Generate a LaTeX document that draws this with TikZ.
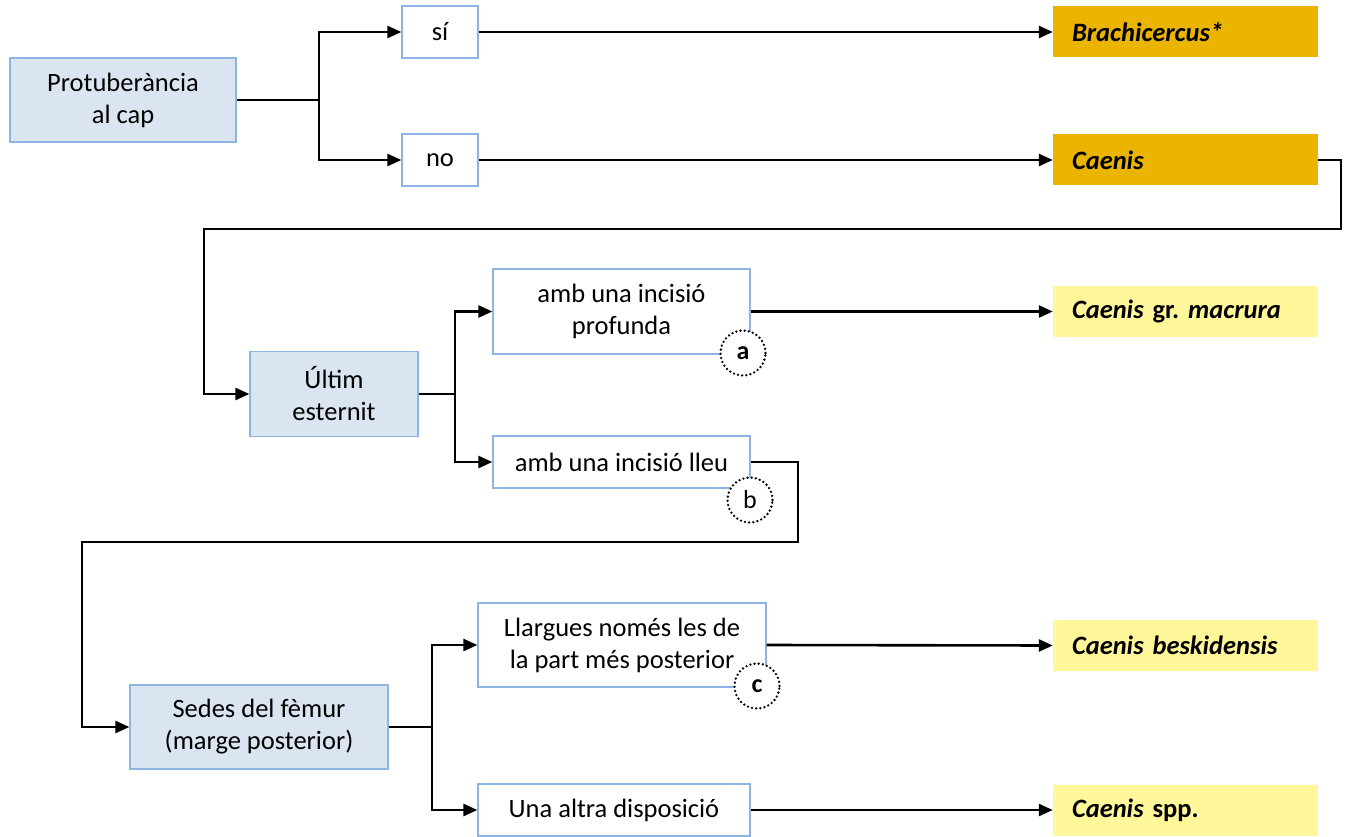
\documentclass[tikz,border=0pt]{standalone}
\usepackage{fontspec}
\setmainfont{Carlito}
\usetikzlibrary{arrows.meta}
\definecolor{bfill}{HTML}{DBE5F1}
\definecolor{bline}{HTML}{8EB4E3}
\definecolor{gold}{HTML}{EBB400}
\definecolor{lyel}{HTML}{FFF799}
\frenchspacing
\tikzset{
  base/.style={font=\fontsize{26.5}{32}\selectfont, align=center, inner sep=0pt},
  qbox/.style={base, draw=bline, line width=1.3pt, fill=bfill},
  abox/.style={base, draw=bline, line width=1.3pt, fill=white},
  sp/.style={font=\fontsize{26.5}{32}\selectfont\bfseries\itshape, inner xsep=19pt, inner ysep=0pt,
    text width=227pt, align=left, minimum height=51pt},
  ln/.style={line width=2.6pt, draw=black},
  arr/.style={ln, -{Triangle[length=14pt,width=12pt]}},
  tag/.style={circle, draw=black, line cap=round, dash pattern=on 0pt off 4.2pt, line width=2.6pt,
    fill=white, minimum size=45pt, inner sep=0pt, font=\fontsize{26}{28}\selectfont}
}
\begin{document}
\begin{tikzpicture}[x=1pt,y=-1pt]
\useasboundingbox (0,0) rectangle (1354,837);
% question boxes
\node[qbox, minimum width=226pt, minimum height=84pt] (prot) at (123,100) {Protuberància\\al cap};
\node[qbox, minimum width=168pt, minimum height=85pt] (ultim) at (334,394) {Últim\\esternit};
\node[qbox, minimum width=258pt, minimum height=84pt] (sedes) at (259,727) {Sedes del fèmur\\(marge posterior)};
% answer boxes
\node[abox, minimum width=76pt, minimum height=52pt] (si) at (440,32) {sí};
\node[abox, minimum width=76pt, minimum height=52pt] (no) at (440,160) {no};
\node[abox, minimum width=257pt, minimum height=85pt] (prof) at (621.5,311.5) {amb una incisió\\profunda};
\node[abox, minimum width=257pt, minimum height=52pt] (lleu) at (621.5,462) {amb una incisió lleu};
\node[abox, minimum width=288pt, minimum height=84pt] (llarg) at (622,645) {Llargues només les de\\la part més posterior};
\node[abox, minimum width=272pt, minimum height=52pt] (altra) at (614,810) {Una altra disposició};
% species boxes
\node[sp, fill=gold] (brach) at (1185.5,32) {Brachicercus*};
\node[sp, fill=gold] (caen) at (1185.5,160) {Caenis};
\node[sp, fill=lyel] (macr) at (1185.5,311.5) {Caenis {\upshape gr.} macrura};
\node[sp, fill=lyel] (besk) at (1185.5,645.5) {Caenis beskidensis};
\node[sp, fill=lyel] (spp) at (1185.5,810) {Caenis {\upshape spp.}};
% junction coordinates
\coordinate (j1) at (319,100);
\coordinate (j2) at (455,394);
\coordinate (j3) at (432,727);
\coordinate (r1) at (1341,229);
\coordinate (l1) at (204,229);
\coordinate (r2) at (798,542);
\coordinate (l2) at (82,542);
% connectors
\draw[ln] (prot.east) -- (j1);
\draw[arr] (j1) |- (si.west);
\draw[arr] (j1) |- (no.west);
\draw[arr] (si.east) -- (brach.west);
\draw[arr] (no.east) -- (caen.west);
\draw[arr] (caen.east) -| (r1) -- (l1) |- (ultim.west);
\draw[ln] (ultim.east) -- (j2);
\draw[arr] (j2) |- (prof.west);
\draw[arr] (j2) |- (lleu.west);
\draw[arr] (prof.east) -- (macr.west);
\draw[arr] (lleu.east) -| (r2) -- (l2) |- (sedes.west);
\draw[ln] (sedes.east) -- (j3);
\draw[arr] (j3) |- (llarg.west);
\draw[arr] (j3) |- (altra.west);
\draw[arr] (llarg.east) -- (besk.west);
\draw[arr] (altra.east) -- (spp.west);
% tags on top of boxes and lines
\node[tag, font=\fontsize{26}{28}\selectfont\bfseries] (ta) at (743,353) {a};
\node[tag] (tb) at (750,500) {b};
\node[tag, font=\fontsize{26}{28}\selectfont\bfseries] (tc) at (757,686) {c};
\end{tikzpicture}
\end{document}
